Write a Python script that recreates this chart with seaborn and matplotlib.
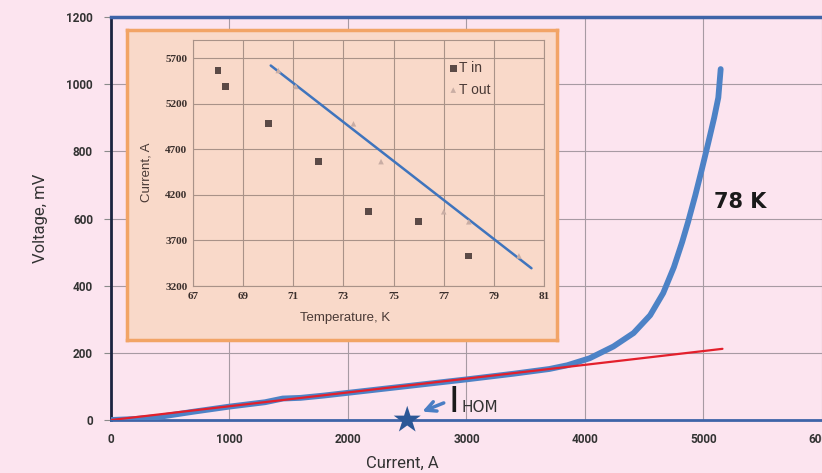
import numpy as np
import pandas as pd
import matplotlib
matplotlib.use('Agg')
import matplotlib.pyplot as plt
import seaborn as sns

# main I-V curve at 78 K
current = [0, 200, 400, 700, 1000, 1300, 1450, 1600, 1800, 2200, 2600, 3000, 3400, 3700,
           3850, 4040, 4240, 4410, 4550, 4660, 4750, 4820, 4870, 4930, 4985, 5040, 5090,
           5125, 5145]
voltage = [0, 3, 9, 25, 40, 53, 64, 66, 73, 89, 105, 121, 138, 152,
           163, 184, 219, 259, 312, 378, 455, 530, 590, 668, 745, 825, 900,
           960, 1045]
# linear (ohmic) part
lin_current = [0, 5160]
lin_voltage = [0, 212]
# nominal current
i_nom = [2500]
i_nom_v = [0]

# inset: critical current vs temperature
t_in = [68.0, 68.3, 70.0, 72.0, 74.0, 76.0, 78.0]
i_in = [5565, 5390, 4980, 4565, 4020, 3905, 3530]
t_out = [70.4, 71.1, 73.4, 74.5, 77.0, 78.0, 80.0]
i_out = [5565, 5390, 4980, 4565, 4015, 3905, 3530]
fit_t = [70.1, 80.5]
fit_i = [5620, 3395]

pink = '#fce4ef'
peach = '#f9d9c9'

sns.set_style('whitegrid')
plt.rcParams['font.family'] = ['Roboto', 'DejaVu Sans']

fig = plt.figure(figsize=(8.22, 4.73), dpi=100)
fig.patch.set_facecolor(pink)
ax = fig.add_axes([0.135, 0.112, 0.865, 0.852])
ax.set_facecolor(pink)

sns.lineplot(x=current, y=voltage, ax=ax, color='#4d82c6', lw=4.2, sort=False, estimator=None, zorder=3)
sns.lineplot(x=lin_current, y=lin_voltage, ax=ax, color='#e3202c', lw=1.6, estimator=None, zorder=4)
sns.scatterplot(x=i_nom, y=i_nom_v, ax=ax, marker='*', s=420, color='#2c5796', edgecolor='none',
                zorder=6, clip_on=False)

ax.set_xlim(0, 6000)
ax.set_ylim(0, 1200)
ax.set_xticks(range(0, 6001, 1000))
ax.set_yticks(range(0, 1201, 200))
ax.grid(True, color='#a79aa3', lw=0.8)
ax.tick_params(axis='y', length=5, color='#8a8a8a', labelsize=8.5, pad=8, labelcolor='#333333', left=True)
ax.tick_params(axis='x', length=0, labelsize=8.5, pad=9, labelcolor='#333333')
for lab in ax.get_xticklabels() + ax.get_yticklabels():
    lab.set_fontweight('bold')
ax.spines['left'].set_color('#1c2440')
ax.spines['left'].set_linewidth(2)
ax.spines['bottom'].set_color('#3e64a8')
ax.spines['bottom'].set_linewidth(2)
ax.spines['top'].set_color('#3e64a8')
ax.spines['top'].set_linewidth(2.5)
ax.spines['right'].set_visible(False)

ax.set_xlabel('Current, A', fontsize=12, color='#333333')
ax.set_ylabel('Voltage, mV', fontsize=12, color='#333333')
ax.xaxis.set_label_coords(0.41, -0.088)
ax.yaxis.set_label_coords(-0.088, 0.5)

ax.text(5085, 648, '78 K', fontsize=15, fontweight='bold', color='#1a1a1a', va='center',
        family=['DejaVu Sans'])
ax.annotate('', xy=(2605, 22), xytext=(2830, 54),
            arrowprops=dict(arrowstyle='->', color='#4a7ec4', lw=2.5, mutation_scale=18))
ax.text(2845, 24, 'I', fontsize=26, color='#1a1a1a', va='baseline', family=['DejaVu Sans'])
ax.text(2960, 24, 'НОМ', fontsize=11, color='#333333', va='baseline', family=['DejaVu Sans'])

# inset box
box = fig.add_axes([0.1545, 0.2812, 0.523, 0.6554])
box.set_facecolor(peach)
box.set_xticks([])
box.set_yticks([])
box.grid(False)
for s in box.spines.values():
    s.set_color('#f2a466')
    s.set_linewidth(2.5)

ins = fig.add_axes([0.2348, 0.3953, 0.427, 0.5201])
ins.set_facecolor(peach)
sns.scatterplot(x=t_in, y=i_in, ax=ins, marker='s', s=24, color='#5b4a46', edgecolor='none',
                label='T in', zorder=4)
sns.scatterplot(x=t_out, y=i_out, ax=ins, marker='^', s=16, color='#c9ada4', edgecolor='none',
                label='T out', zorder=4)
sns.lineplot(x=fit_t, y=fit_i, ax=ins, color='#3f74bd', lw=1.8, estimator=None, zorder=3)
ins.set_xlim(67, 81)
ins.set_ylim(3200, 5900)
ins.set_xticks(range(67, 82, 2))
ins.set_yticks(range(3200, 5701, 500))
ins.grid(True, color='#a99288', lw=0.8)
ins.tick_params(length=0, labelsize=8, labelcolor='#3a2f2c', pad=4)
for lab in ins.get_xticklabels() + ins.get_yticklabels():
    lab.set_family(['Liberation Serif', 'DejaVu Serif'])
    lab.set_fontweight('bold')
for s in ins.spines.values():
    s.set_color('#a99288')
    s.set_linewidth(0.8)
ins.set_xlabel('Temperature, K', fontsize=9.5, color='#4a3a36', family=['Liberation Sans', 'DejaVu Sans'])
ins.set_ylabel('Current, A', fontsize=9.5, color='#4a3a36', family=['Liberation Sans', 'DejaVu Sans'])
ins.xaxis.set_label_coords(0.433, -0.105)
ins.yaxis.set_label_coords(-0.115, 0.463)
ins.legend(loc='upper left', bbox_to_anchor=(0.69, 0.965), frameon=False,
           handletextpad=0.05, handlelength=0.8, labelspacing=0.55, labelcolor='#4a3a36',
           prop={'family': ['Liberation Sans', 'DejaVu Sans'], 'size': 10})

fig.savefig('out.png', dpi=100, facecolor=pink)
